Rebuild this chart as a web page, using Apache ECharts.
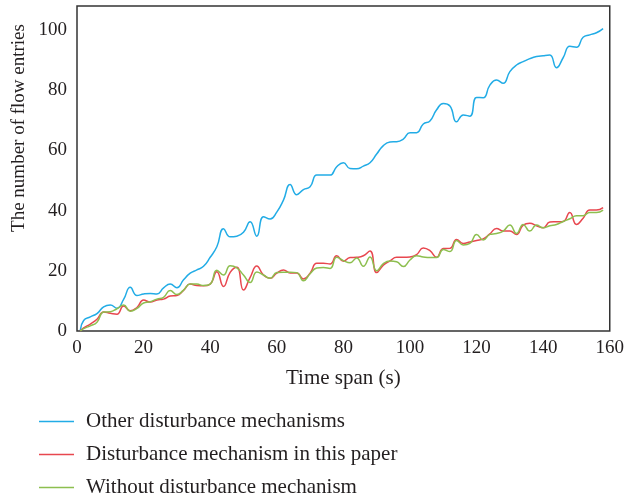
<!DOCTYPE html>
<html>
<head>
<meta charset="utf-8">
<script src="https://cdn.jsdelivr.net/npm/echarts@6/dist/echarts.min.js"></script>
<style>
  html, body { margin: 0; padding: 0; background: #fff; }
  #chart { width: 627px; height: 498px; }
</style>
</head>
<body>
<div id="chart"></div>
<script>
// Sample times (s)
var timeSpan = [1, 2, 4, 6, 8, 10, 12, 14, 16, 18, 20, 22, 24, 26, 28, 30, 32, 34, 36, 38,
  40, 42, 44, 46, 48, 50, 52, 54, 56, 58, 60, 62, 64, 66, 68, 70, 72, 74, 76, 78,
  80, 82, 84, 86, 88, 90, 92, 94, 96, 98, 100, 102, 104, 106, 108, 110, 112, 114, 116, 118,
  120, 122, 124, 126, 128, 130, 132, 134, 136, 138, 140, 142, 144, 146, 148, 150, 152, 154, 156, 158];

// Number of flow entries per mechanism
var otherMechanisms = [0.3, 3.5, 4.7, 5.8, 8.0, 8.6, 7.6, 10.5, 14.5, 11.8, 12.3, 12.5, 12.3, 14.3, 15.6, 14.4, 17.0, 19.2, 20.3, 21.5,
  24.5, 28.0, 34.0, 31.3, 31.5, 32.8, 36.3, 31.5, 38.0, 37.2, 39.5, 43.5, 48.7, 45.3, 47.0, 47.9, 51.8, 51.8, 51.8, 54.6,
  55.9, 54.0, 53.9, 54.8, 55.9, 58.8, 61.6, 62.8, 62.9, 63.8, 65.9, 65.9, 68.8, 69.8, 73.5, 75.6, 74.8, 69.5, 71.8, 71.4,
  77.6, 77.5, 81.7, 83.4, 82.3, 86.2, 88.4, 89.5, 90.5, 91.2, 91.5, 91.7, 87.5, 90.8, 94.6, 94.3, 97.6, 98.4, 99.1, 100.5];

var thisPaper = [0, 1.0, 2.3, 3.9, 6.3, 5.9, 5.6, 8.3, 6.7, 7.8, 10.3, 9.6, 10.3, 10.6, 11.6, 11.8, 13.5, 15.6, 15.1, 15.0,
  15.6, 19.7, 14.8, 19.5, 21.2, 13.6, 17.8, 21.6, 18.6, 17.5, 19.2, 20.3, 19.3, 19.3, 17.3, 19.2, 22.5, 22.5, 22.3, 25.0,
  23.2, 24.4, 24.5, 25.0, 26.6, 19.4, 21.9, 23.3, 24.5, 24.5, 24.6, 25.4, 27.6, 26.7, 24.5, 27.4, 27.5, 30.4, 29.1, 29.6,
  30.1, 30.6, 32.3, 34.1, 33.2, 33.2, 32.1, 35.2, 35.8, 35.0, 34.3, 36.2, 36.3, 36.4, 39.4, 35.4, 37.5, 40.2, 40.2, 41.0];

var withoutMechanism = [0, 0.8, 1.7, 2.9, 6.3, 6.4, 7.4, 8.6, 6.6, 7.5, 9.3, 9.7, 10.6, 11.2, 13.5, 12.1, 13.6, 15.6, 15.6, 15.1,
  15.6, 20.2, 18.6, 21.7, 21.0, 18.6, 16.1, 19.6, 18.6, 17.5, 19.4, 19.5, 19.5, 19.4, 16.7, 19.0, 20.9, 21.1, 20.8, 24.5,
  23.4, 22.7, 24.3, 21.5, 24.6, 20.0, 22.4, 23.3, 23.0, 21.4, 23.6, 25.0, 24.6, 24.4, 24.4, 27.1, 26.4, 30.1, 28.6, 29.1,
  32.1, 30.2, 32.1, 32.4, 33.2, 35.2, 32.4, 35.4, 33.2, 35.2, 34.3, 35.0, 35.4, 36.4, 37.3, 38.3, 38.3, 39.4, 39.4, 40.2];

var seriesNames = ['Other disturbance mechanisms', 'Disturbance mechanism in this paper', 'Without disturbance mechanism'];
var seriesColors = ['#22ace6', '#e8474f', '#8dbf4f'];
var seriesValues = [otherMechanisms, thisPaper, withoutMechanism];

var FONT = '"Liberation Serif", "Times New Roman", serif';
var TEXT = '#231f20';

function pairs(values) {
  return timeSpan.map(function (t, i) { return [t, values[i]]; });
}

var chart = echarts.init(document.getElementById('chart'), null, { renderer: 'canvas' });

chart.setOption({
  backgroundColor: '#fff',
  animation: false,
  grid: {
    left: 77, right: 14, top: 6, bottom: 167,
    show: true, borderColor: '#333', borderWidth: 1.5, backgroundColor: 'transparent'
  },
  xAxis: {
    type: 'value', min: 0, max: 160, interval: 20,
    name: 'Time span (s)', nameLocation: 'middle', nameGap: 37,
    nameTextStyle: { fontFamily: FONT, fontSize: 21, color: TEXT },
    axisLine: { show: false }, axisTick: { show: false }, splitLine: { show: false },
    axisLabel: { fontFamily: FONT, fontSize: 19, color: TEXT, margin: 8 }
  },
  yAxis: {
    type: 'value', min: 0, max: 108, interval: 20,
    axisLine: { show: false }, axisTick: { show: false }, splitLine: { show: false },
    axisLabel: {
      fontFamily: FONT, fontSize: 19, color: TEXT, margin: 10,
      formatter: function (v) { return v % 20 === 0 ? String(v) : ''; }
    }
  },
  graphic: [{
    type: 'text', x: 19, y: 128, rotation: Math.PI / 2,
    style: {
      text: 'The number of flow entries', fontFamily: FONT, fontSize: 19, fill: TEXT,
      textAlign: 'center', textVerticalAlign: 'middle'
    }
  }],
  legend: {
    orient: 'vertical', left: 34, top: 406, height: 200,
    icon: 'rect', itemWidth: 35, itemHeight: 1.3, itemGap: 12,
    textStyle: { fontFamily: FONT, fontSize: 21, color: TEXT, lineHeight: 20, padding: [0, 0, 0, 7] },
    data: seriesNames
  },
  series: seriesValues.map(function (vals, i) {
    return {
      type: 'line', name: seriesNames[i], data: pairs(vals),
      smooth: 0.5, symbol: 'none',
      lineStyle: { color: seriesColors[i], width: 1.5 },
      itemStyle: { color: seriesColors[i] },
      z: 2 + i
    };
  })
});
</script>
</body>
</html>
